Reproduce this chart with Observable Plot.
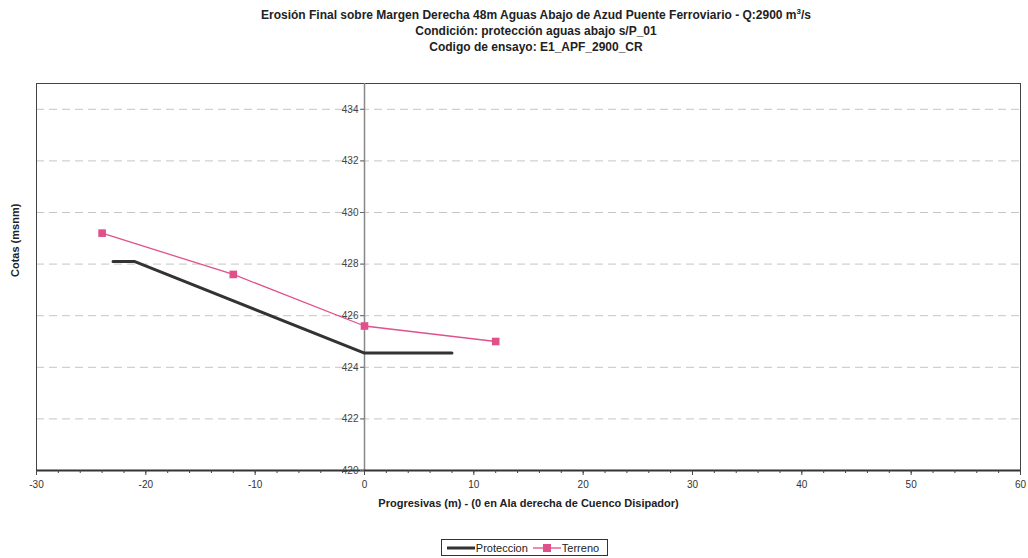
<!DOCTYPE html>
<html>
<head>
<meta charset="utf-8">
<script src="https://cdn.jsdelivr.net/npm/d3@7"></script>
<script src="https://cdn.jsdelivr.net/npm/@observablehq/plot@0.6"></script>
<style>
  body { margin: 0; background: #fff; font-family: "Liberation Sans", Arial, sans-serif; }
  #title { box-sizing: border-box; width: 1028px; height: 60px; padding-top: 7px; padding-left: 44px;
           text-align: center; font-weight: bold; font-size: 12px; line-height: 16px; color: #222; }
  #title sup { font-size: 8px; line-height: 0; }
  #legendWrap { box-sizing: border-box; width: 1028px; padding-left: 21px; margin-top: 19px; text-align: center; }
  #legend { display: inline-flex; align-items: center; border: 1px solid #333; height: 15px; padding: 0 4px;
            font-size: 11px; color: #222; }
  #legend .item { display: inline-flex; align-items: center; margin-right: 4px; }
  #legend svg { display: block; }
</style>
</head>
<body>
<div id="title">
  <div>Erosión Final sobre Margen Derecha 48m Aguas Abajo de Azud Puente Ferroviario - Q:2900 m<sup>3</sup>/s</div>
  <div>Condición: protección aguas abajo s/P_01</div>
  <div>Codigo de ensayo: E1_APF_2900_CR</div>
</div>
<div id="chart"></div>
<div id="legendWrap"><div id="legend"></div></div>
<script>
// ---- data ----
const protX = [-23, -21, 0, 8];
const protY = [428.1, 428.1, 424.55, 424.55];
const terrX = [-24, -12, 0, 12];
const terrY = [429.2, 427.6, 425.6, 425.0];
const seriesNames = ["Proteccion", "Terreno"];
const xMajorTicks = [-30, -20, -10, 0, 10, 20, 30, 40, 50, 60];
const xMinorTicks = d3.range(-30, 61, 2);
const yTicks = [420, 422, 424, 426, 428, 430, 432, 434];
const xLabel = "Progresivas (m) - (0 en Ala derecha de Cuenco Disipador)";
const yLabel = "Cotas (msnm)";

const prot = protX.map((x, i) => ({x, y: protY[i]}));
const terr = terrX.map((x, i) => ({x, y: terrY[i]}));

const W = 1028, H = 460, mL = 36, mR = 8, mT = 23, mB = 50;
const xDomain = [-30, 60], yDomain = [420, 435];
const xs = Plot.scale({x: {domain: xDomain, range: [mL, W - mR]}});
const yAxisShift = xs.apply(0) - xs.apply(xDomain[0]);

const protColor = "#333333";
const terrColor = "#e0508a";

const chart = Plot.plot({
  width: W, height: H,
  marginLeft: mL, marginRight: mR, marginTop: mT, marginBottom: mB,
  style: {fontFamily: "'Liberation Sans', Arial, sans-serif", fontSize: "10px", color: "#333", background: "#fff"},
  x: {domain: xDomain},
  y: {domain: yDomain},
  marks: [
    Plot.gridY(yTicks, {stroke: "#c9c4c0", strokeOpacity: 1, strokeDasharray: "8,5"}),
    Plot.frame({stroke: "#444", strokeWidth: 1}),
    Plot.ruleX([0], {stroke: "#888", strokeWidth: 1.5}),
    Plot.ruleY([yDomain[0]], {stroke: "#333", strokeWidth: 2}),
    Plot.axisY(yTicks, {anchor: "left", dx: yAxisShift, tickSize: 4, tickPadding: 2, label: null, stroke: "#666", fill: "#444", tickFormat: d => String(d)}),
    Plot.axisX(xMinorTicks, {anchor: "bottom", tickSize: 3, text: null, label: null, stroke: "#444"}),
    Plot.axisX(xMajorTicks, {anchor: "bottom", tickSize: 5, tickPadding: 5, label: null, stroke: "#444", fill: "#333", tickFormat: d => String(d)}),
    Plot.text([xLabel], {frameAnchor: "bottom", dy: 36, fontWeight: "bold", fontSize: 11, fill: "#222"}),
    Plot.text([yLabel], {frameAnchor: "left", rotate: -90, dx: -21, fontWeight: "bold", fontSize: 11, fill: "#222"}),
    Plot.line(prot, {x: "x", y: "y", stroke: protColor, strokeWidth: 3}),
    Plot.line(terr, {x: "x", y: "y", stroke: terrColor, strokeWidth: 1.3}),
    Plot.dot(terr, {x: "x", y: "y", symbol: "square", r: 4.3, fill: terrColor, stroke: "none"})
  ]
});
document.getElementById("chart").appendChild(chart);

// ---- legend ----
const legend = document.getElementById("legend");
const ns = "http://www.w3.org/2000/svg";
function sample(color, width, marker) {
  const s = document.createElementNS(ns, "svg");
  s.setAttribute("width", 30); s.setAttribute("height", 12);
  const l = document.createElementNS(ns, "line");
  l.setAttribute("x1", 1); l.setAttribute("x2", 29); l.setAttribute("y1", 6); l.setAttribute("y2", 6);
  l.setAttribute("stroke", color); l.setAttribute("stroke-width", width);
  s.appendChild(l);
  if (marker) {
    const r = document.createElementNS(ns, "rect");
    r.setAttribute("x", 11); r.setAttribute("y", 2); r.setAttribute("width", 8); r.setAttribute("height", 8);
    r.setAttribute("fill", color);
    s.appendChild(r);
  }
  return s;
}
[[seriesNames[0], protColor, 3, false], [seriesNames[1], terrColor, 1.3, true]].forEach(([name, c, w, m]) => {
  const it = document.createElement("span");
  it.className = "item";
  it.appendChild(sample(c, w, m));
  const t = document.createElement("span");
  t.textContent = name;
  it.appendChild(t);
  legend.appendChild(it);
});
</script>
</body>
</html>
